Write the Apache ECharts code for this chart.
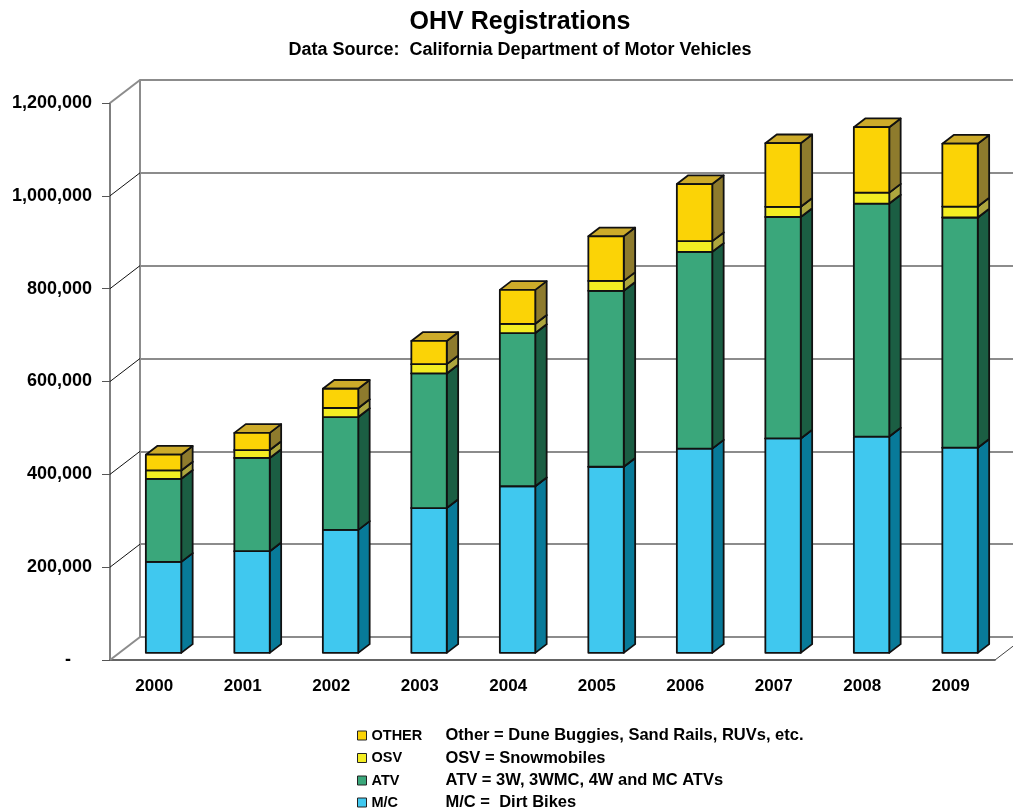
<!DOCTYPE html>
<html>
<head>
<meta charset="utf-8">
<title>OHV Registrations</title>
<script src="https://cdn.jsdelivr.net/npm/echarts@6/dist/echarts.min.js"></script>
<style>
html,body{margin:0;padding:0;background:#fff;}
#main{width:1013px;height:810px;}
</style>
</head>
<body>
<div id="main"></div>
<script>
// registrations per year
var years = ['2000', '2001', '2002', '2003', '2004', '2005', '2006', '2007', '2008', '2009'];
var mc    = [196000, 219000, 265000, 312000, 359000, 401000, 440000, 462000, 466000, 442000];
var atv   = [179000, 201000, 243000, 290000, 330000, 379000, 424000, 477000, 502000, 496000];
var osv   = [18000, 17000, 19500, 20000, 20000, 21500, 23000, 22000, 23500, 23500];
var other = [34000, 37000, 41500, 50000, 73000, 96000, 123000, 137000, 141000, 135500];

var yTicks = [0, 200000, 400000, 600000, 800000, 1000000, 1200000];

var legendNames = ['OTHER', 'OSV', 'ATV', 'M/C'];
var legendText = ['Other = Dune Buggies, Sand Rails, RUVs, etc.', 'OSV = Snowmobiles', 'ATV = 3W, 3WMC, 4W and MC ATVs', 'M/C =  Dirt Bikes'];

var FONT = "'Liberation Sans', Arial, sans-serif";
var DX = 30, DY = -23; // depth of the floor

var myChart = echarts.init(document.getElementById('main'));

// stack order from the floor up
var layers = [mc, atv, osv, other];
var layerNames = ['M/C', 'ATV', 'OSV', 'OTHER'];
var faces = [
	{front: '#40c8ef', side: '#087a99', top: '#23a0c4'},
	{front: '#3aa77b', side: '#1b5e43', top: '#2d8a63'},
	{front: '#f3ed22', side: '#ada63e', top: '#d6cf2c'},
	{front: '#fbd306', side: '#8e7b2d', top: '#cdab2a'}
];

function box(c) {
	return function (params, api) {
		var i = api.value(0);
		var pa = api.coord([i, api.value(1)]);
		var pb = api.coord([i, api.value(2)]);
		var band = api.size([1, 0])[0];
		var w = band * 0.4;
		var f1 = 0.31, f2 = 0.69;
		var x0 = pa[0] - w / 2 + DX * f1, x1 = x0 + w;
		var yb = pa[1] + DY * f1, yt = pb[1] + DY * f1;
		var sx = DX * (f2 - f1), sy = DY * (f2 - f1);
		function st(fill) {
			return {fill: fill, stroke: '#111', lineWidth: 1.8, lineJoin: 'round'};
		}
		return {
			type: 'group',
			children: [
				{type: 'polygon', shape: {points: [[x1, yb], [x1 + sx, yb + sy], [x1 + sx, yt + sy], [x1, yt]]}, style: st(c.side)},
				{type: 'polygon', shape: {points: [[x0, yt], [x1, yt], [x1 + sx, yt + sy], [x0 + sx, yt + sy]]}, style: st(c.top)},
				{type: 'rect', shape: {x: x0, y: yt, width: w, height: yb - yt}, style: st(c.front)}
			]
		};
	};
}

var series = [];

// diagonal lines from the front axis ticks back to the wall
series.push({
	type: 'custom',
	name: 'walls',
	xAxisIndex: 0,
	yAxisIndex: 0,
	z: 1,
	silent: true,
	data: yTicks.map(function (v) { return [0, v]; }),
	encode: {x: 0, y: 1},
	renderItem: function (params, api) {
		var v = api.value(1);
		var cs = params.coordSys;
		var y = api.coord([0, v])[1];
		var edge = (v === 0 || v === yTicks[yTicks.length - 1]);
		var kids = [{
			type: 'line',
			shape: {x1: cs.x, y1: y, x2: cs.x + DX, y2: y + DY},
			style: {stroke: edge ? '#8c8c8c' : '#111', lineWidth: edge ? 2 : 1}
		}];
		if (v === 0) {
			kids.push({
				type: 'line',
				shape: {x1: cs.x + cs.width, y1: y, x2: cs.x + cs.width + DX, y2: y + DY},
				style: {stroke: '#444', lineWidth: 1}
			});
		}
		return {type: 'group', children: kids};
	}
});

var base = years.map(function () { return 0; });
layers.forEach(function (vals, k) {
	var d = vals.map(function (v, i) {
		var r = [i, base[i], base[i] + v];
		base[i] += v;
		return r;
	});
	series.push({
		type: 'custom',
		name: layerNames[k],
		xAxisIndex: 0,
		yAxisIndex: 0,
		z: 5,
		itemStyle: {color: faces[k].front},
		data: d,
		encode: {x: 0, y: [1, 2]},
		renderItem: box(faces[k])
	});
});

// one legend per row so the rows sit where the reference has them
var rowY = [735, 757.5, 780, 802];
var legends = legendNames.map(function (name, k) {
	return {
		data: [name],
		orient: 'vertical',
		left: 357,
		top: rowY[k] - 8,
		padding: 0,
		itemWidth: 9,
		itemHeight: 9,
		icon: 'rect',
		selectedMode: false,
		itemStyle: {borderColor: '#222', borderWidth: 1},
		formatter: function (n) {
			return '{n|' + n + '}{d|' + legendText[k] + '}';
		},
		textStyle: {
			rich: {
				n: {fontSize: 14.5, fontWeight: 'bold', width: 74, lineHeight: 16, fontFamily: FONT, color: '#000'},
				d: {fontSize: 16.5, fontWeight: 'bold', lineHeight: 16, fontFamily: FONT, color: '#000'}
			}
		}
	};
});

var option = {
	backgroundColor: '#fff',
	animation: false,
	graphic: [
		{type: 'text', x: 520, y: 22, style: {text: 'OHV Registrations', fill: '#000', fontSize: 25, fontWeight: 'bold', fontFamily: FONT, align: 'center', verticalAlign: 'middle'}},
		{type: 'text', x: 520, y: 50, style: {text: 'Data Source:  California Department of Motor Vehicles', fill: '#000', fontSize: 18, fontWeight: 'bold', fontFamily: FONT, align: 'center', verticalAlign: 'middle'}}
	],
	legend: legends,
	grid: [
		{left: 110, right: 18, top: 103, bottom: 150},
		{left: 140, right: 0, top: 80, bottom: 173}
	],
	xAxis: [
		{
			gridIndex: 0,
			type: 'category',
			data: years,
			axisLine: {lineStyle: {color: '#333', width: 1.5}},
			axisTick: {length: 9, lineStyle: {color: '#333'}},
			axisLabel: {color: '#000', fontSize: 17, fontWeight: 'bold', fontFamily: FONT, margin: 18},
			splitLine: {show: false}
		},
		{gridIndex: 1, type: 'value', min: 0, max: 1, show: false}
	],
	yAxis: [
		{
			gridIndex: 0,
			type: 'value',
			min: 0,
			max: 1200000,
			interval: 200000,
			axisLine: {show: true, lineStyle: {color: '#555', width: 1.5}},
			axisTick: {show: true, length: 8, lineStyle: {color: '#555'}},
			splitLine: {show: false},
			axisLabel: {
				color: '#000', fontSize: 18, fontWeight: 'bold', fontFamily: FONT, margin: 18,
				formatter: function (v) {
					if (v === 0) return '{z|-}';
					return v.toLocaleString('en-US');
				},
				rich: {z: {fontSize: 18, fontWeight: 'bold', fontFamily: FONT, color: '#000', padding: [0, 21, 0, 0]}}
			}
		},
		{
			gridIndex: 1,
			type: 'value',
			min: 0,
			max: 1200000,
			interval: 200000,
			axisLine: {show: true, lineStyle: {color: '#8c8c8c', width: 2}},
			axisTick: {show: false},
			axisLabel: {show: false},
			splitLine: {show: true, lineStyle: {color: '#8c8c8c', width: 2}}
		}
	],
	series: series
};

myChart.setOption(option);
</script>
</body>
</html>
